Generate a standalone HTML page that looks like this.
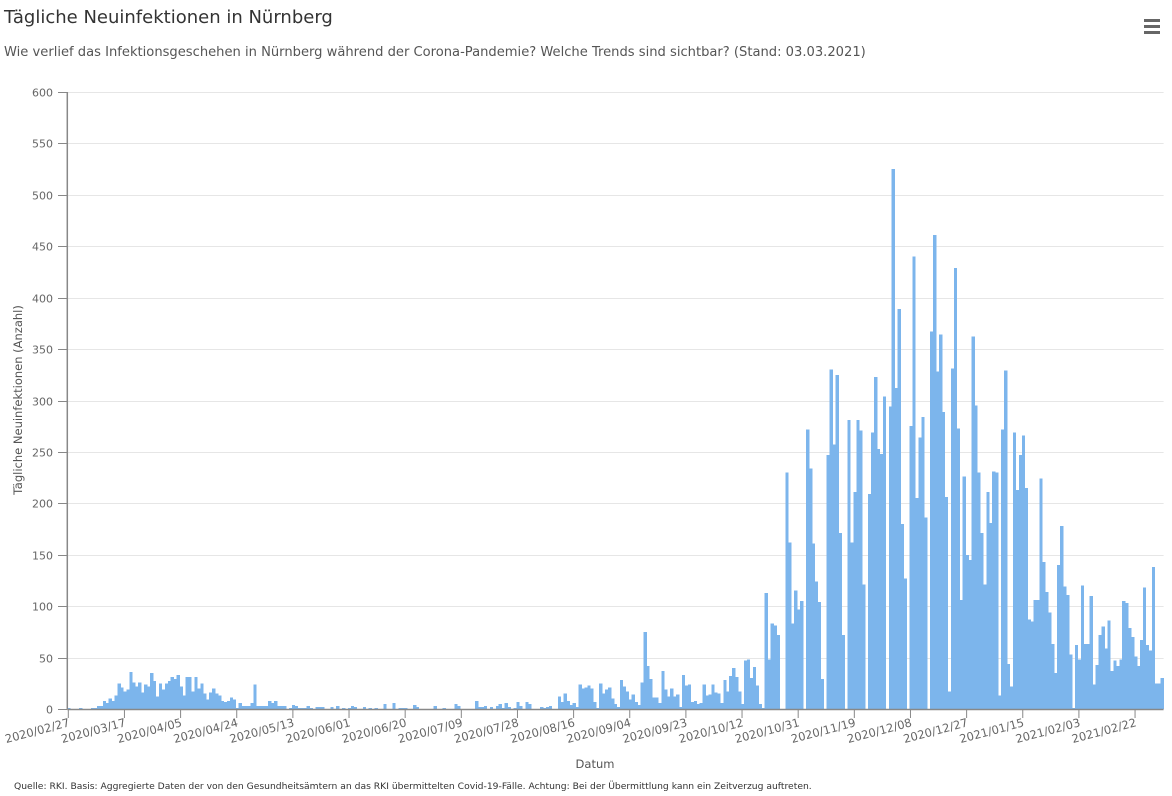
<!DOCTYPE html>
<html><head><meta charset="utf-8">
<style>
html,body{margin:0;padding:0;background:#fff;width:1172px;height:796px;overflow:hidden;font-family:"Liberation Sans","DejaVu Sans",sans-serif}
svg text{font-family:"DejaVu Sans","Liberation Sans",sans-serif}
</style></head>
<body>
<svg id="chart" width="1172" height="796" xmlns="http://www.w3.org/2000/svg">
<text x="4" y="23" font-size="18" fill="#333">Tägliche Neuinfektionen in Nürnberg</text>
<text x="4" y="56" font-size="13.1" fill="#555">Wie verlief das Infektionsgeschehen in Nürnberg während der Corona-Pandemie? Welche Trends sind sichtbar? (Stand: 03.03.2021)</text>
<g>
<rect x="1144" y="19" width="16" height="3" fill="#666"/><rect x="1144" y="25" width="16" height="3" fill="#666"/><rect x="1144" y="31" width="16" height="3" fill="#666"/>
</g>
<g id="grid"></g>
<g id="bars"></g>
<g id="axes"></g>
<text transform="translate(22,400) rotate(-90)" text-anchor="middle" font-size="11.5" fill="#555">Tägliche Neuinfektionen (Anzahl)</text>
<text x="595" y="768" text-anchor="middle" font-size="11.5" fill="#555">Datum</text>
<text x="14" y="789" font-size="9.2" fill="#333">Quelle: RKI. Basis: Aggregierte Daten der von den Gesundheitsämtern an das RKI übermittelten Covid-19-Fälle. Achtung: Bei der Übermittlung kann ein Zeitverzug auftreten.</text>
</svg>
<script>
const startDate = [2020, 2, 27];
const yTicks = [0,50,100,150,200,250,300,350,400,450,500,550,600];
const tickEvery = 19;
const cases = [1,0,0,0,1,0,0,0,1,1,3,3,8,6,10,8,13,25,21,17,19,36,26,22,26,16,24,22,35,27,12,25,19,25,27,31,29,33,22,13,31,31,17,31,20,25,15,9,16,20,15,13,8,7,8,11,9,1,6,3,3,3,6,24,3,3,3,3,8,6,8,3,3,3,0,1,4,3,1,1,1,3,1,0,2,2,2,0,0,2,0,3,0,1,0,1,3,2,0,0,2,0,1,0,1,0,0,5,0,0,6,0,1,1,1,0,0,4,2,0,0,0,0,0,3,0,0,1,0,0,0,5,3,0,0,0,0,0,8,2,2,3,0,2,0,3,5,1,6,2,0,1,7,3,0,7,5,0,0,0,2,1,2,3,0,0,12,7,15,8,4,6,2,24,20,21,23,20,7,1,25,15,19,21,10,5,2,28,22,17,9,14,7,4,26,75,42,29,11,11,6,37,19,12,20,12,14,2,33,23,24,7,8,5,6,24,13,14,24,16,15,6,28,17,32,40,31,17,5,47,48,30,41,23,5,1,113,48,83,81,72,0,0,230,162,83,115,97,105,0,272,234,161,124,104,29,0,247,330,257,325,171,72,0,281,162,211,281,271,121,0,209,269,323,253,248,304,0,294,525,312,389,180,127,0,275,440,205,264,284,186,0,367,461,328,364,289,206,17,331,429,273,106,226,150,145,362,295,230,171,121,211,181,231,230,13,272,329,44,22,269,213,247,266,215,87,85,106,106,224,143,114,94,63,35,140,178,119,111,53,1,62,48,120,63,63,110,24,43,72,80,59,86,37,47,42,48,105,103,79,70,51,42,67,118,62,57,138,25,25,30];

const NS='http://www.w3.org/2000/svg';
const x0=67.3, x1=1163.6, yTop=92, yBase=709, yMax=600;
const bw=(x1-x0)/cases.length;
function xPos(i){return x0+i*bw;}
function yPos(v){return yBase-(v/yMax)*(yBase-yTop);}
function mk(tag,attrs,parent){const e=document.createElementNS(NS,tag);for(const k in attrs)e.setAttribute(k,attrs[k]);parent.appendChild(e);return e;}
const grid=document.getElementById('grid'), bars=document.getElementById('bars'), axes=document.getElementById('axes');
yTicks.forEach(v=>{
  const y=Math.round(yPos(v))+0.5;
  if(v>0){const g=mk('line',{x1:x0,x2:x1,y1:y,y2:y,stroke:'#e6e6e6','stroke-width':1},grid);
    
    }
  const t=mk('line',{x1:58,x2:x0,y1:y,y2:y,stroke:'#888','stroke-width':1},axes);
  
  
  const l=mk('text',{x:53,y:y+4,'text-anchor':'end','font-size':11,fill:'#666'},axes);
  l.textContent=v;
  
  
});
cases.forEach((v,i)=>{
  if(v<=0)return;
  const r=mk('rect',{x:xPos(i),y:yPos(v),width:bw+0.3,height:yBase-yPos(v),fill:'#7cb5ec','shape-rendering':'crispEdges'},bars);
  
  
});
const ya=mk('line',{x1:x0,x2:x0,y1:yTop,y2:yBase,stroke:'#888','stroke-width':1.5},axes);


const xa=mk('line',{x1:x0,x2:x1,y1:yBase+0.5,y2:yBase+0.5,stroke:'#888','stroke-width':1.5},axes);


const d0=new Date(Date.UTC(startDate[0],startDate[1]-1,startDate[2]));
function pad(n){return (n<10?'0':'')+n;}
for(let i=0;i<cases.length;i+=tickEvery){
  const x=xPos(i)+1;
  const t=mk('line',{x1:x,x2:x,y1:yBase,y2:yBase+9,stroke:'#888','stroke-width':1},axes);
  
  
  const d=new Date(d0.getTime()+i*86400000);
  const s=d.getUTCFullYear()+'/'+pad(d.getUTCMonth()+1)+'/'+pad(d.getUTCDate());
  const l=mk('text',{transform:'translate('+(x+2)+','+(yBase+17)+') rotate(-15)','text-anchor':'end','font-size':11.5,fill:'#666'},axes);
  l.textContent=s;
  
  
}
</script>
</body></html>
